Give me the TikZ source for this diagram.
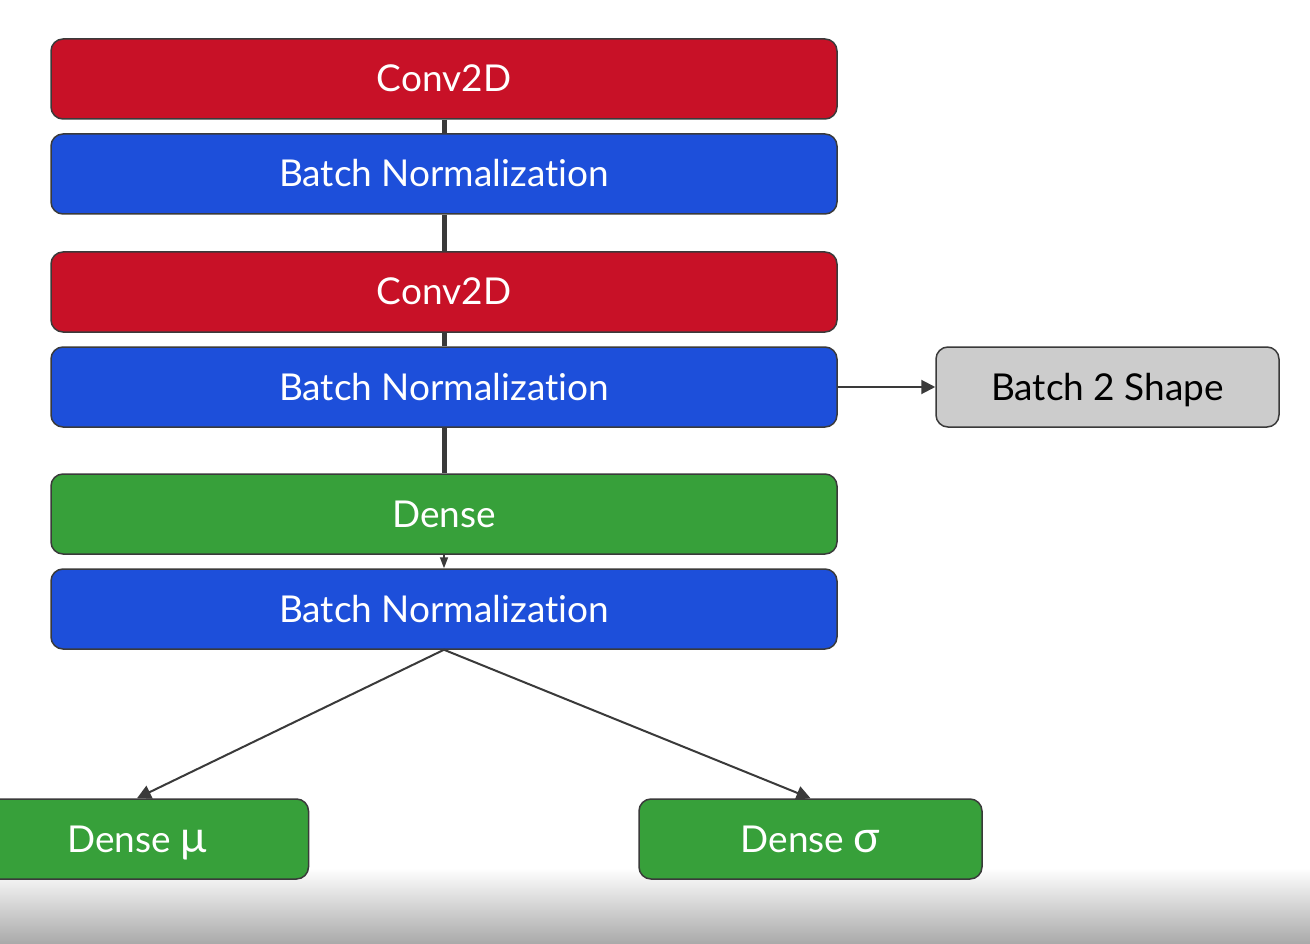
\documentclass[tikz,border=0pt]{standalone}
\usepackage{fontspec}
\setmainfont{Lato}[Ligatures=NoCommon]
\usetikzlibrary{arrows.meta}
\definecolor{convred}{HTML}{C81127}
\definecolor{bnblue}{HTML}{1D4FDA}
\definecolor{densegreen}{HTML}{37A03A}
\definecolor{shapegray}{HTML}{CCCCCC}
\definecolor{edgegray}{HTML}{3A3A3A}
\definecolor{floorgray}{HTML}{A9A9A9}
\newcommand*\biggreek[1]{{\fontsize{44}{44}\selectfont #1}}
\tikzset{
  layer/.style={draw=edgegray, line width=1.5pt, rounded corners=12pt,
    minimum width=786pt, minimum height=80pt, text=white,
    text height=32pt, text depth=6pt,
    font=\fontsize{37}{42}\selectfont},
  conv/.style={layer, fill=convred},
  bnorm/.style={layer, fill=bnblue},
  dense/.style={layer, fill=densegreen},
  side/.style={layer, minimum width=343pt},
  link/.style={edgegray, line width=5pt},
  flow/.style={edgegray, line width=2pt, -{Triangle[length=14pt,width=14pt]}}
}

\begin{document}
\begin{tikzpicture}[x=1pt,y=-1pt]
\useasboundingbox (0,0) rectangle (1310,944);
\fill[white] (0,0) rectangle (1310,944);
\shade[top color=white, bottom color=floorgray] (0,868) rectangle (1310,944);

% main stack
\node[conv]  (conva) at (444,79)  {Conv2D};
\node[bnorm] (bna)   at (444,174) {Batch Normalization};
\node[conv]  (convb) at (444,292) {Conv2D};
\node[bnorm] (bnb)   at (444,387) {Batch Normalization};
\node[dense] (dns)   at (444,514) {Dense};
\node[bnorm] (bnc)   at (444,609) {Batch Normalization};

% side and heads
\node[side, fill=shapegray, text=black] (shape) at (1107.5,387) {Batch 2 Shape};
\node[side, fill=densegreen] (mu)    at (137,839) {Dense \biggreek{μ}};
\node[side, fill=densegreen] (sigma) at (810.5,839) {Dense \biggreek{σ}};

\draw[link] (conva.south) -- (bna.north);
\draw[link] (bna.south) -- (convb.north);
\draw[link] (convb.south) -- (bnb.north);
\draw[link] (bnb.south) -- (dns.north);
\draw[edgegray, line width=1.5pt, -{Triangle[length=11pt,width=8pt]}] (dns.south) -- (bnc.north);
\draw[flow] (bnb.east) -- (shape.west);
\draw[flow] (bnc.south) -- (mu.north);
\draw[flow] (bnc.south) -- (sigma.north);
\end{tikzpicture}
\end{document}
